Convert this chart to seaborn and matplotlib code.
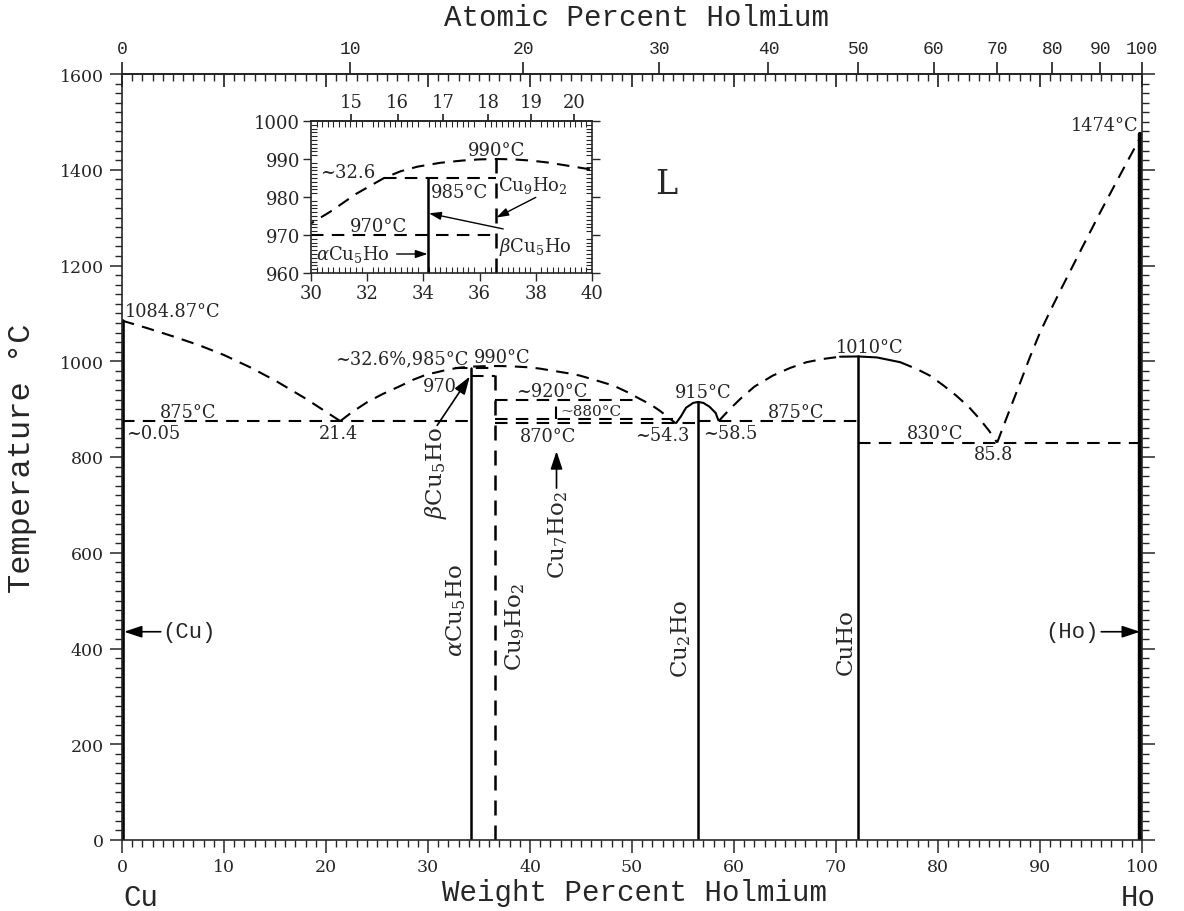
import numpy as np
import pandas as pd
import matplotlib
matplotlib.use("Agg")
import matplotlib.pyplot as plt
import seaborn as sns
from matplotlib.ticker import MultipleLocator, FixedLocator

sns.set_theme(style="ticks")
plt.rcParams["font.family"] = ["DejaVu Serif"]
plt.rcParams["mathtext.fontset"] = "dejavuserif"
plt.rcParams["axes.linewidth"] = 1.2

# ---------------- data (wt.% Ho, temperature in C) ----------------
liq_cu_x = [0, 2.5, 5, 7.5, 10, 12.5, 15, 18, 21.4]
liq_cu_t = [1084.87, 1069, 1052, 1034, 1013, 988, 960, 922, 875]
liq_mid_x = [21.4, 22.5, 24.0, 25.5, 27.25, 28.5, 29.9, 30.7, 31.6, 32.6, 33.2, 33.8, 34.6,
             35.4, 36.0, 36.6, 37.2, 37.8, 38.4, 39.0, 40.0, 41.0, 42.0, 43.0, 44.0, 44.9,
             46.5, 48.2, 49.5, 50.8, 51.8, 52.7, 53.5, 54.3]
liq_mid_t = [875, 893, 914, 931, 948, 961, 972.6, 976.2, 980.8, 985, 986.8, 988, 989,
             989.6, 989.9, 990, 989.9, 989.6, 989.1, 988.4, 987.2, 984.5, 981, 977.5, 974, 970,
             960, 949, 936, 921, 910, 897, 884, 870]
dome_x = [54.8, 55.3, 56.0, 56.48, 57.0, 57.6, 58.2]
dome_t = [885, 903, 913, 915, 913, 905, 892]
liq_cuho_x = [58.5, 59.5, 60.6, 62.0, 63.8, 65.5, 67.1, 68.8, 70.4, 72.19, 74.0, 76.3, 78.0,
              79.2, 80.5, 81.8, 83.0, 84.1, 85.0, 85.8]
liq_cuho_t = [875, 898, 921, 947, 970, 986, 998, 1005, 1009.5, 1010, 1008, 998, 983,
              970, 950, 928, 905, 879, 855, 830]
liq_ho_x = [85.8, 87, 88, 89, 90, 91, 92, 94, 96, 98, 100]
liq_ho_t = [830, 897, 952, 1008, 1060, 1105, 1148, 1232, 1315, 1395, 1474]

compound_x = [34.17, 36.58, 56.48, 72.19]
compound_top = [985, 990, 915, 1010]
compound_dashed = [False, True, False, False]
cu7ho2_x = 42.58
cu7ho2_t = [880, 920]

inv_t = [875, 970, 985, 920, 880, 870, 875, 830]
inv_x0 = [0, 34.17, 32.6, 36.58, 36.58, 36.58, 56.48, 72.19]
inv_x1 = [34.17, 36.58, 36.58, 50.6, 54.0, 56.48, 72.19, 100]
inset_970_x0 = 30.0

pure_x = [0.1, 99.85]
pure_t = [1084.87, 1474]

bottom_ticks = list(range(0, 101, 10))
left_ticks = list(range(0, 1601, 200))
top_at_ticks = [0, 10, 20, 30, 40, 50, 60, 70, 80, 90, 100]
inset_x_ticks = [30, 32, 34, 36, 38, 40]
inset_y_ticks = [960, 970, 980, 990, 1000]
inset_at_ticks = [15, 16, 17, 18, 19, 20]

M_CU, M_HO = 63.546, 164.93


def wt2at(w):
    w = np.clip(np.asarray(w, dtype=float), 0, 100)
    a = w / M_HO
    b = (100 - w) / M_CU
    return 100 * a / np.maximum(a + b, 1e-12)


def at2wt(a):
    a = np.clip(np.asarray(a, dtype=float), 0, 100)
    p = a * M_HO
    q = (100 - a) * M_CU
    return 100 * p / np.maximum(p + q, 1e-12)


DASH = (0, (6, 4))
K = "black"

fig = plt.figure(figsize=(11.84, 9.12), dpi=100)
ax = fig.add_axes([122 / 1184, 1 - 841 / 912, 1020 / 1184, 766 / 912])


def curve(axx, x, t, dashed=True, lw=1.5):
    df = pd.DataFrame({"x": x, "t": t})
    sns.lineplot(data=df, x="x", y="t", ax=axx, color=K, lw=lw, estimator=None,
                 sort=False, linestyle=DASH if dashed else "-", legend=False)


def draw_diagram(axx, inset=False):
    curve(axx, liq_cu_x, liq_cu_t)
    curve(axx, liq_mid_x, liq_mid_t)
    curve(axx, [54.3, dome_x[0]], [870, dome_t[0]])
    curve(axx, dome_x, dome_t, dashed=False)
    curve(axx, [dome_x[-1], 58.5], [dome_t[-1], 875])
    curve(axx, liq_cuho_x[:9], liq_cuho_t[:9])
    curve(axx, liq_cuho_x[8:12], liq_cuho_t[8:12], dashed=False)
    curve(axx, liq_cuho_x[11:], liq_cuho_t[11:])
    curve(axx, liq_ho_x, liq_ho_t)
    for x0, x1, t in zip(inv_x0, inv_x1, inv_t):
        if inset and t == 970:
            x0 = inset_970_x0
        axx.plot([x0, x1], [t, t], color=K, lw=1.5, ls=DASH)
    for x, top, d in zip(compound_x, compound_top, compound_dashed):
        bot = 960 if inset else 0
        axx.plot([x, x], [bot, top], color=K, lw=1.8, ls=DASH if d else "-")
    axx.plot([cu7ho2_x, cu7ho2_x], cu7ho2_t, color=K, lw=1.5, ls=DASH)
    axx.plot([pure_x[0], pure_x[0]], [0, pure_t[0]], color=K, lw=2.6)
    axx.plot([pure_x[1], pure_x[1]], [0, pure_t[1]], color=K, lw=3.2)


draw_diagram(ax)
ax.set_xlim(0, 100)
ax.set_ylim(0, 1600)
ax.set_xlabel("")
ax.set_ylabel("")
ax.xaxis.set_major_locator(FixedLocator(bottom_ticks))
ax.xaxis.set_minor_locator(MultipleLocator(1))
ax.yaxis.set_major_locator(FixedLocator(left_ticks))
ax.yaxis.set_minor_locator(MultipleLocator(20))
ax.tick_params(which="major", direction="out", length=9, width=1.1, labelsize=12.5,
               left=True, right=True, bottom=True, top=False, pad=4)
ax.tick_params(which="minor", direction="out", length=5, width=1.0,
               left=True, right=True, bottom=True, top=False)

# top: weight percent ticks inward (mirrored)
topw = ax.secondary_xaxis("top")
topw.xaxis.set_major_locator(FixedLocator(bottom_ticks))
topw.xaxis.set_minor_locator(MultipleLocator(1))
topw.tick_params(which="major", direction="in", length=9, labeltop=False)
topw.tick_params(which="minor", direction="in", length=5)

# top: atomic percent
topa = ax.secondary_xaxis("top", functions=(wt2at, at2wt))
topa.set_xticks(top_at_ticks)
topa.xaxis.set_minor_locator(FixedLocator([]))
topa.tick_params(which="major", direction="out", length=9, labelsize=13, pad=3)
for lab in topa.get_xticklabels():
    lab.set_family("Liberation Mono")

MONO = "Liberation Mono"
fig.text(636 / 1184, 1 - 18 / 912, "Atomic Percent Holmium", ha="center", va="center",
         family=MONO, fontsize=21)
fig.text(634 / 1184, 1 - 893 / 912, "Weight Percent Holmium", ha="center", va="center",
         family=MONO, fontsize=21)
fig.text(22 / 1184, 1 - 458 / 912, "Temperature °C", ha="center", va="center",
         rotation=90, family=MONO, fontsize=23)
fig.text(141 / 1184, 1 - 898 / 912, "Cu", ha="center", va="center", family=MONO, fontsize=21)
fig.text(1138 / 1184, 1 - 898 / 912, "Ho", ha="center", va="center", family=MONO, fontsize=21)

FS = 12.8
texts = [
    ("1084.87°C", 0.3, 1105, "left"),
    ("875°C", 6.5, 893, "center"),
    ("~0.05", 0.4, 850, "left"),
    ("21.4", 21.2, 850, "center"),
    ("~32.6%,985°C", 27.4, 1005, "center"),
    ("970", 31.2, 949, "center"),
    ("990°C", 37.3, 1008, "center"),
    ("~920°C", 42.1, 938, "center"),
    ("870°C", 41.8, 843, "center"),
    ("~54.3", 53.0, 846, "center"),
    ("915°C", 57.0, 935, "center"),
    ("~58.5", 59.6, 850, "center"),
    ("875°C", 66.1, 894, "center"),
    ("1010°C", 73.3, 1030, "center"),
    ("830°C", 79.7, 850, "center"),
    ("85.8", 85.4, 806, "center"),
    ("1474°C", 99.7, 1493, "right"),
]
for s, x, y, ha in texts:
    ax.text(x, y, s, ha=ha, va="center", fontsize=FS)
ax.text(46.0, 897, "~880°C", ha="center", va="center", fontsize=11)
ax.text(53.4, 1370, "L", ha="center", va="center", fontsize=24)

rot_labels = [
    (r"$\beta$Cu$_5$Ho", 30.8, 864, "top"),
    (r"$\alpha$Cu$_5$Ho", 32.8, 482, "center"),
    (r"Cu$_9$Ho$_2$", 38.5, 447, "center"),
    (r"Cu$_7$Ho$_2$", 42.8, 731, "top"),
    (r"Cu$_2$Ho", 54.8, 422, "center"),
    (r"CuHo", 71.0, 416, "center"),
]
for s, x, y, va in rot_labels:
    ax.text(x, y, s, rotation=90, ha="center", va=va, fontsize=16.5)

arrowkw = dict(arrowstyle="-|>,head_length=0.9,head_width=0.3", color=K, lw=1.2,
               shrinkA=0, shrinkB=0)
ax.annotate("", xy=(34.1, 968), xytext=(30.9, 866), arrowprops=arrowkw)
ax.annotate("", xy=(42.6, 812), xytext=(42.6, 735), arrowprops=arrowkw)
ax.annotate("", xy=(0.2, 435), xytext=(3.8, 435), arrowprops=arrowkw)
ax.text(3.9, 435, "(Cu)", ha="left", va="center", family=MONO, fontsize=16)
ax.annotate("", xy=(99.8, 435), xytext=(96.0, 435), arrowprops=arrowkw)
ax.text(95.8, 435, "(Ho)", ha="right", va="center", family=MONO, fontsize=16)

# ---------------- inset ----------------
ins = fig.add_axes([311 / 1184, 1 - 274 / 912, 281 / 1184, 152 / 912])
ins.set_facecolor("white")
draw_diagram(ins, inset=True)
ins.set_xlim(30, 40)
ins.set_ylim(960, 1000)
ins.set_xlabel("")
ins.set_ylabel("")
ins.xaxis.set_major_locator(FixedLocator(inset_x_ticks))
ins.xaxis.set_minor_locator(MultipleLocator(0.2))
ins.yaxis.set_major_locator(FixedLocator(inset_y_ticks))
ins.yaxis.set_minor_locator(MultipleLocator(1))
ins.tick_params(which="major", direction="out", length=6, width=1.0, labelsize=13,
                left=True, right=True, bottom=True, top=False, pad=2)
ins.tick_params(which="minor", direction="in", length=4, width=0.8,
                left=True, right=True, bottom=True, top=True)
insa = ins.secondary_xaxis("top", functions=(wt2at, at2wt))
insa.set_xticks(inset_at_ticks)
insa.xaxis.set_minor_locator(FixedLocator([]))
insa.tick_params(which="major", direction="out", length=5, labelsize=13, pad=2)

ins_texts = [
    ("~32.6", 31.3, 986.6, "center"),
    ("990°C", 36.6, 992.3, "center"),
    ("985°C", 35.3, 981.3, "center"),
    ("970°C", 32.4, 972.4, "center"),
    (r"Cu$_9$Ho$_2$", 37.9, 983.4, "center"),
    (r"$\beta$Cu$_5$Ho", 38.0, 967.2, "center"),
    (r"$\alpha$Cu$_5$Ho", 31.5, 965.0, "center"),
]
for s, x, y, ha in ins_texts:
    ins.text(x, y, s, ha=ha, va="center", fontsize=13)
ins_arrow = dict(arrowstyle="-|>,head_length=0.6,head_width=0.2", color=K, lw=1.0,
                 shrinkA=0, shrinkB=0)
ins.annotate("", xy=(34.15, 965), xytext=(33.05, 965), arrowprops=ins_arrow)
ins.annotate("", xy=(36.6, 974.6), xytext=(38.0, 979.9), arrowprops=ins_arrow)
ins.annotate("", xy=(34.2, 975.7), xytext=(36.84, 971.6), arrowprops=ins_arrow)

fig.savefig("out.png", dpi=100, facecolor="white")
